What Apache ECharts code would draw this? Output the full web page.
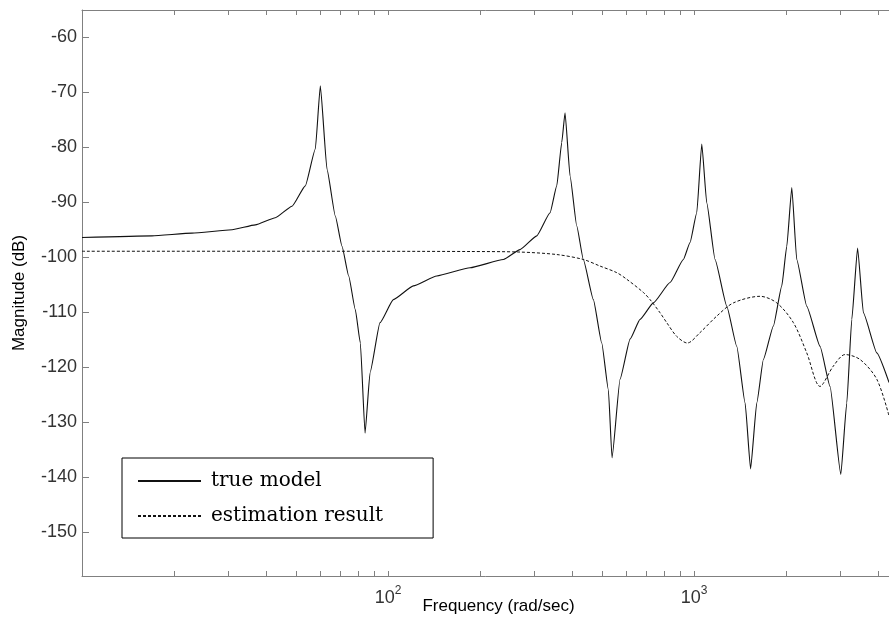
<!DOCTYPE html>
<html>
<head>
<meta charset="utf-8">
<script src="https://cdn.jsdelivr.net/npm/echarts@6/dist/echarts.min.js"></script>
<style>
html,body{margin:0;padding:0;background:#fff;overflow:hidden;}
#chart{width:889px;height:627px;}
</style>
</head>
<body>
<div id="chart"></div>
<script>
// True model: frequency (rad/sec) and magnitude (dB)
var trueFreq = [10, 16.93, 22.88, 30.92, 36.85, 42.83, 48.57, 53.67, 57.86, 60.09, 63.19, 67.26, 70.73, 74.38, 78.16, 81.2, 84.12, 87.35, 94.13, 104.1, 121.0, 144.3, 185.4, 238.2, 270.0, 306.2, 338.4, 355.9, 369.5, 378.8, 393.4, 413.7, 434.7, 468.8, 499.3, 524.8, 539.5, 573.0, 617.9, 666.1, 736.2, 834.8, 922.6, 970.3, 1020.5, 1059.7, 1100.3, 1171.1, 1279.3, 1378.9, 1468.1, 1530.0, 1603.2, 1684.9, 1816.6, 1934.9, 2009.0, 2086.4, 2165.2, 2335.0, 2580.5, 2782.1, 3016.5, 3155.6, 3276.7, 3422.5, 3575.5, 3955.5, 4338];
var trueMag = [-96.4, -96.1, -95.6, -95.0, -94.1, -92.8, -90.7, -87.0, -80.3, -68.8, -84.0, -92.5, -98.0, -103.4, -109.5, -115.6, -132.0, -121.0, -111.9, -107.7, -105.2, -103.4, -101.9, -100.4, -98.6, -96.1, -91.9, -87.0, -79.1, -73.7, -85.2, -94.3, -100.4, -107.7, -115.6, -124.1, -136.5, -122.2, -114.9, -111.3, -108.3, -104.6, -100.4, -97.3, -91.9, -79.4, -90.1, -100.4, -108.9, -116.2, -126.5, -138.5, -126.5, -118.6, -112.5, -105.2, -98.0, -87.3, -100.4, -108.9, -116.2, -123.5, -139.5, -126.5, -111.3, -98.3, -110.1, -117.4, -122.8];

// Estimation result
var estFreq = [10, 51.6, 185.4, 270.0, 355.9, 434.7, 492.9, 559.0, 602.6, 682.9, 718.1, 774.3, 814.3, 878.0, 950.6, 1046.1, 1186.5, 1344.3, 1643.4, 1863.6, 2111.7, 2335.0, 2580.5, 2852.0, 3115.9, 3487.3, 3955.5, 4338];
var estMag = [-98.9, -98.9, -98.95, -99.05, -99.5, -100.4, -101.6, -102.8, -104.0, -106.4, -107.7, -110.1, -111.9, -114.4, -115.6, -113.7, -110.7, -108.3, -107.1, -108.3, -111.9, -117.4, -123.5, -119.8, -117.7, -118.6, -122.2, -128.9];

// Axis ticks
var xLabelTicks = [100, 1000];
var xTicks = [20, 30, 40, 50, 60, 70, 80, 90, 100, 200, 300, 400, 500, 600, 700, 800, 900, 1000, 2000, 3000, 4000, 5000];
var yTicks = [-150, -140, -130, -120, -110, -100, -90, -80, -70, -60];
var xRange = [10, 5272];
var yRange = [-158, -55];

var seriesNames = ['true model', 'estimation result'];

function pairs(xs, ys) { return xs.map(function (x, i) { return [x, ys[i]]; }); }

var chart = echarts.init(document.getElementById('chart'), null, {renderer: 'canvas'});
var axisGray = '#808080';
var labelColor = '#333';
var font = 'Liberation Sans, Arial, sans-serif';

chart.setOption({
  animation: false,
  backgroundColor: '#fff',
  grid: {left: 82, top: 10, right: -26, bottom: 51, containLabel: false, outerBoundsMode: 'none'},
  legend: {
    orient: 'vertical',
    left: 122, top: 458,
    data: seriesNames,
    backgroundColor: '#fff',
    borderColor: '#000',
    borderWidth: 1,
    padding: [13, 50, 12, 15],
    itemWidth: 63,
    itemHeight: 14,
    itemGap: 15,
    itemStyle: {opacity: 0, borderWidth: 0},
    textStyle: {fontFamily: 'DejaVu Serif, Liberation Serif, serif', fontSize: 20, color: '#000', padding: [0, 0, 0, 5]}
  },
  xAxis: [{
    type: 'log', logBase: 10, min: xRange[0], max: xRange[1],
    name: 'Frequency (rad/sec)', nameLocation: 'middle', nameGap: 22, nameMoveOverlap: false,
    nameTextStyle: {fontFamily: font, fontSize: 17, color: '#000'},
    axisLine: {lineStyle: {color: axisGray, width: 1}},
    axisTick: {inside: true, length: 5, customValues: xTicks, lineStyle: {color: axisGray}},
    axisLabel: {
      customValues: xLabelTicks, margin: 9,
      formatter: function (v) { return '{b|10}{s|' + Math.round(Math.log10(v)) + '}'; },
      rich: {
        b: {fontFamily: font, fontSize: 18, color: labelColor, verticalAlign: 'bottom', lineHeight: 22},
        s: {fontFamily: font, fontSize: 12, color: labelColor, verticalAlign: 'top', lineHeight: 22, padding: [0, 0, 12, 0]}
      }
    },
    splitLine: {show: false}
  }, {
    type: 'log', logBase: 10, min: xRange[0], max: xRange[1], position: 'top',
    axisLine: {lineStyle: {color: axisGray, width: 1}},
    axisTick: {inside: true, length: 5, customValues: xTicks, lineStyle: {color: axisGray}},
    axisLabel: {show: false},
    splitLine: {show: false}
  }],
  yAxis: {
    type: 'value', min: yRange[0], max: yRange[1],
    name: 'Magnitude (dB)', nameLocation: 'middle', nameGap: 54, nameRotate: 90, nameMoveOverlap: false,
    nameTextStyle: {fontFamily: font, fontSize: 17, color: '#000'},
    axisLine: {show: true, lineStyle: {color: axisGray, width: 1}},
    axisTick: {show: true, inside: true, length: 7, customValues: yTicks, lineStyle: {color: axisGray}},
    axisLabel: {customValues: yTicks, fontFamily: font, fontSize: 18, color: labelColor, margin: 5},
    splitLine: {show: false}
  },
  series: [{
    name: seriesNames[0], type: 'line', xAxisIndex: 0,
    data: pairs(trueFreq, trueMag),
    symbol: 'none', smooth: 0.15, smoothMonotone: 'x',
    lineStyle: {color: '#111', width: 1.1, type: 'solid'},
    itemStyle: {color: '#111'}
  }, {
    name: seriesNames[1], type: 'line', xAxisIndex: 0,
    data: pairs(estFreq, estMag),
    symbol: 'none', smooth: 0.3,
    lineStyle: {color: '#111', width: 1, type: [3, 2]},
    itemStyle: {color: '#111'}
  }]
});
</script>
</body>
</html>
